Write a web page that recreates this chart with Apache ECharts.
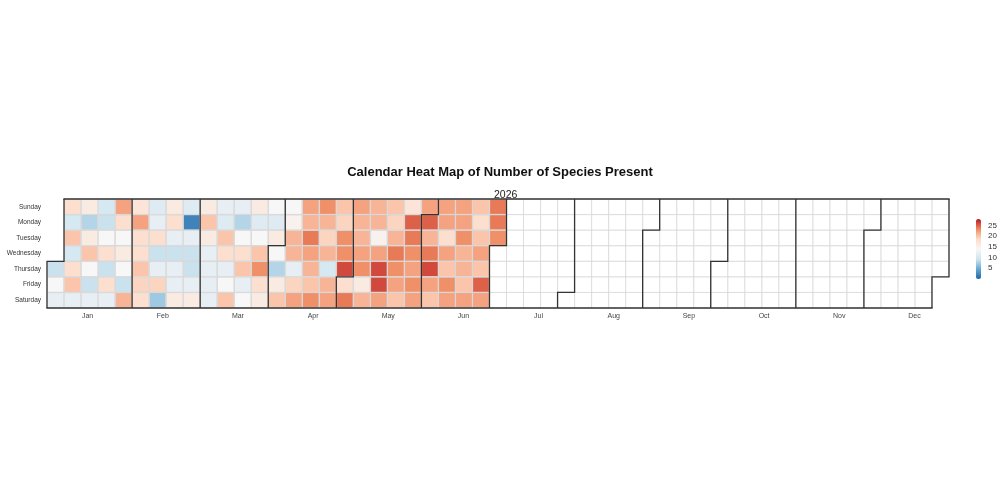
<!DOCTYPE html>
<html>
<head>
<meta charset="utf-8">
<script src="https://cdn.jsdelivr.net/npm/echarts@6/dist/echarts.min.js"></script>
<style>
  html, body { margin: 0; padding: 0; background: #fff; }
  #main { width: 1000px; height: 500px; }
</style>
</head>
<body>
<div id="main"></div>
<script>
// daily species counts, Jan 1 - Jun 30 2026
var jan = [9, 14, 12, 18, 10, 20, 10, 18, 20, 12, 16, 8, 16, 20, 14, 9, 12, 10, 9, 14, 18, 9, 18, 12, 22, 18, 14, 16, 14, 9, 21];
var feb = [17, 22, 18, 18, 20, 19, 18, 11, 12, 18, 9, 12, 19, 7, 16, 18, 12, 9, 12, 12, 16, 11, 2, 12, 9, 9, 12, 16];
var mar = [16, 20, 16, 12, 12, 12, 12, 12, 11, 20, 18, 12, 14, 20, 12, 8, 14, 18, 20, 12, 14, 16, 11, 14, 20, 23, 18, 16, 14, 11, 16];
var apr = [14, 8, 16, 20, 14, 15, 21, 21, 12, 19, 22, 22, 21, 24, 22, 21, 20, 23, 23, 21, 19, 21, 10, 21, 22, 20, 19, 23, 23, 26];
var may = [18, 24, 22, 21, 21, 22, 23, 16, 21, 21, 21, 15, 22, 26, 26, 22, 20, 19, 21, 24, 23, 22, 20, 17, 25, 24, 23, 22, 23, 22, 22];
var jun = [25, 21, 24, 26, 22, 20, 22, 22, 18, 22, 20, 23, 22, 22, 22, 23, 21, 21, 20, 22, 20, 18, 20, 22, 20, 25, 22, 24, 24, 23];

var monthNames = ['Jan', 'Feb', 'Mar', 'Apr', 'May', 'Jun', 'Jul', 'Aug', 'Sep', 'Oct', 'Nov', 'Dec'];
var dayNames = ['Sunday', 'Monday', 'Tuesday', 'Wednesday', 'Thursday', 'Friday', 'Saturday'];
// RdBu (7 class) with in-between stops so the ramp looks closer to a Lab blend
var rdbu = ['#2166ac', '#4588be', '#67a9cf', '#9fc8e1', '#d1e5f0', '#e4eef4', '#f7f7f7',
            '#fbe9df', '#fddbc7', '#f8b496', '#ef8a62', '#d6513f', '#b2182b'];
var year = 2026;

var heatData = [];
[jan, feb, mar, apr, may, jun].forEach(function (vals, m) {
  for (var d = 0; d < vals.length; d++) {
    var mm = ('0' + (m + 1)).slice(-2);
    var dd = ('0' + (d + 1)).slice(-2);
    heatData.push([year + '-' + mm + '-' + dd, vals[d]]);
  }
});

var chart = echarts.init(document.getElementById('main'));

chart.setOption({
  backgroundColor: '#fff',
  textStyle: { fontFamily: 'Liberation Sans' },
  title: [
    {
      text: 'Calendar Heat Map of Number of Species Present',
      left: 'center',
      top: 161,
      textStyle: { fontSize: 13, fontWeight: 'bold', color: '#111' }
    },
    {
      text: String(year),
      left: 494,
      top: 190,
      padding: 0,
      textStyle: { fontSize: 10.5, fontWeight: 'normal', color: '#222' }
    }
  ],
  visualMap: {
    type: 'continuous',
    min: 0,
    max: 28,
    seriesIndex: 0,
    left: 976,
    top: 219,
    itemWidth: 5,
    itemHeight: 60,
    padding: 0,
    calculable: false,
    text: null,
    inRange: { color: rdbu }
  },
  calendar: {
    range: String(year),
    orient: 'horizontal',
    left: 47,
    right: 51,
    top: 199,
    bottom: 192,
    cellSize: ['auto', 'auto'],
    z: 3,
    itemStyle: { color: 'transparent', borderColor: '#d6d6d6', borderWidth: 0.6 },
    splitLine: { show: true, lineStyle: { color: '#333', width: 1.3 } },
    dayLabel: {
      firstDay: 0,
      nameMap: dayNames,
      position: 'start',
      margin: 6,
      fontSize: 6.5,
      color: '#333'
    },
    monthLabel: { show: false },
    yearLabel: { show: false }
  },
  grid: [
    { left: 50, right: 48, top: 199, bottom: 192 },
    { left: 981, width: 1, top: 219, height: 60 }
  ],
  xAxis: [
    {
      gridIndex: 0,
      type: 'category',
      data: monthNames,
      position: 'bottom',
      axisLine: { show: false },
      axisTick: { show: false },
      splitLine: { show: false },
      axisLabel: { fontSize: 7, color: '#444', margin: 5 }
    },
    { gridIndex: 1, type: 'value', show: false }
  ],
  yAxis: [
    { gridIndex: 0, type: 'value', show: false },
    {
      gridIndex: 1,
      type: 'value',
      min: 0,
      max: 28,
      interval: 5,
      position: 'right',
      axisLine: { show: false },
      axisTick: { show: false },
      splitLine: { show: false },
      axisLabel: {
        fontSize: 8,
        color: '#333',
        margin: 6,
        formatter: function (v) { return v === 0 ? '' : v; }
      }
    }
  ],
  series: [{
    type: 'heatmap',
    coordinateSystem: 'calendar',
    z: 1,
    data: heatData,
    itemStyle: { borderColor: '#d6d6d6', borderWidth: 0.5 }
  }]
});
</script>
</body>
</html>
